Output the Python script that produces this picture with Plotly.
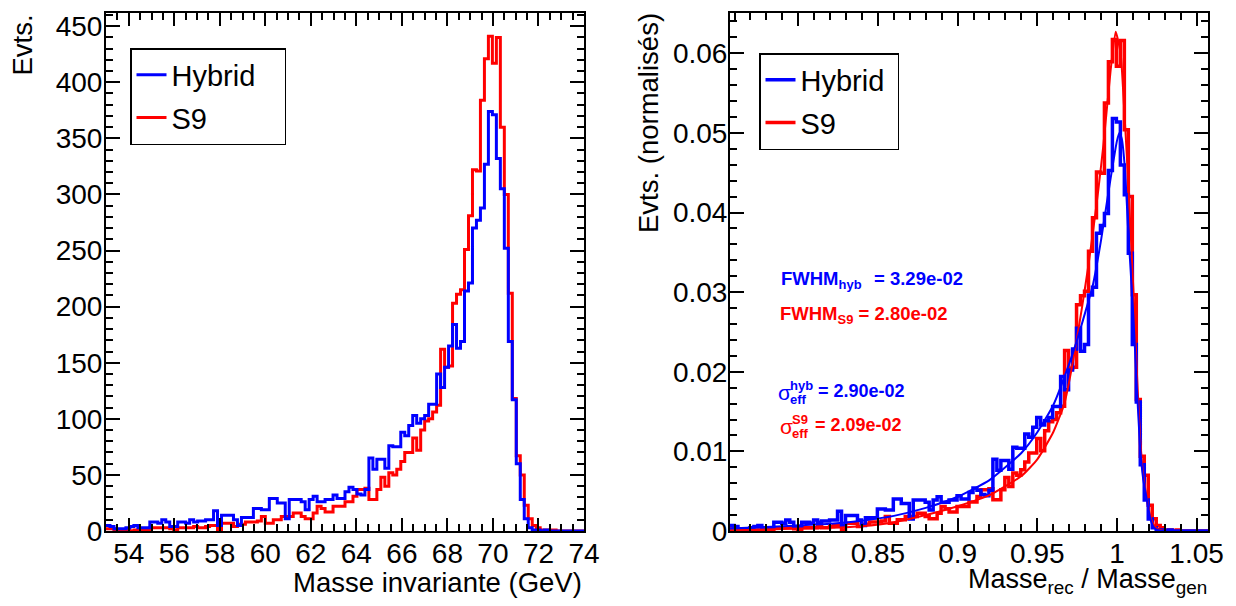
import numpy as np
import plotly.graph_objects as go

# ---------------- data ----------------
# Left panel: invariant mass histogram, 120 bins from 53 to 74 GeV (counts)
mass_lo, mass_hi, n_bins = 53.0, 74.0, 120
hybrid_counts = [
    5, 4, 2, 2, 2, 3, 4, 5, 3, 3,
    3, 8, 8, 7, 10, 8, 4, 4, 8, 8,
    7, 10, 8, 9, 9, 10, 10, 18, 5, 14,
    14, 14, 10, 5, 12, 12, 12, 20, 20, 19,
    19, 29, 29, 25, 25, 11, 28, 28, 28, 26,
    19, 28, 31, 26, 26, 28, 28, 32, 29, 29,
    35, 39, 37, 33, 32, 37, 65, 55, 64, 64,
    56, 76, 75, 75, 88, 85, 94, 103, 96, 100,
    103, 113, 113, 140, 128, 146, 165, 184, 163, 169,
    214, 221, 270, 277, 288, 327, 374, 371, 332, 305,
    252, 169, 117, 60, 28, 11, 3, 1, 1, 0,
    1, 0, 0, 0, 0, 0, 0, 0, 0, 0,
]
s9_counts = [
    2, 2, 1, 0, 1, 1, 0, 1, 1, 1,
    1, 3, 3, 3, 3, 3, 2, 1, 3, 3,
    3, 3, 4, 3, 3, 4, 5, 5, 1, 7,
    7, 7, 4, 6, 6, 8, 8, 8, 9, 13,
    7, 7, 10, 10, 13, 13, 13, 16, 16, 13,
    11, 11, 16, 22, 20, 17, 17, 22, 22, 22,
    26, 26, 31, 37, 37, 38, 28, 28, 37, 48,
    40, 52, 50, 55, 62, 70, 70, 83, 72, 90,
    98, 100, 106, 112, 162, 146, 147, 203, 211, 215,
    251, 281, 322, 321, 384, 421, 441, 417, 440, 360,
    300, 212, 118, 67, 50, 23, 11, 5, 3, 1,
    1, 0, 1, 0, 0, 0, 0, 0, 0, 0,
]

# Right panel: normalised ratio histogram, 120 bins from 0.757143 to 1.057143 (units of 1e-4)
ratio_lo, ratio_hi = 0.757143, 1.057143
hybrid_norm_e4 = [
    6.9, 5.5, 2.8, 2.8, 2.8, 4.2, 5.5, 6.9, 4.2, 4.2,
    4.2, 11.1, 11.1, 9.7, 13.9, 11.1, 5.5, 5.5, 11.1, 11.1,
    9.7, 13.9, 11.1, 12.5, 12.5, 13.9, 13.9, 24.9, 6.9, 19.4,
    19.4, 19.4, 13.9, 6.9, 16.6, 16.6, 16.6, 27.7, 27.7, 26.3,
    26.3, 40.2, 40.2, 34.6, 34.6, 15.2, 38.8, 38.8, 38.8, 36.0,
    26.3, 38.8, 42.9, 36.0, 36.0, 38.8, 38.8, 44.3, 40.2, 40.2,
    48.5, 54.0, 51.2, 45.7, 44.3, 51.2, 90.0, 76.2, 88.6, 88.6,
    77.6, 105.3, 103.9, 103.9, 121.9, 117.7, 130.2, 142.7, 133.0, 138.5,
    142.7, 156.5, 156.5, 193.9, 177.3, 202.2, 228.5, 254.8, 225.8, 234.1,
    296.4, 306.1, 374.0, 383.6, 398.9, 452.9, 518.0, 513.8, 459.8, 422.4,
    349.0, 234.1, 162.0, 83.1, 38.8, 15.2, 4.2, 1.4, 1.4, 0.0,
    1.4, 0.0, 0.0, 0.0, 0.0, 0.0, 0.0, 0.0, 0.0, 0.0,
]
s9_norm_e4 = [
    2.8, 2.8, 1.4, 0.0, 1.4, 1.4, 0.0, 1.4, 1.4, 1.4,
    1.4, 4.2, 4.2, 4.2, 4.2, 4.2, 2.8, 1.4, 4.2, 4.2,
    4.2, 4.2, 5.6, 4.2, 4.2, 5.6, 7.0, 7.0, 1.4, 9.8,
    9.8, 9.8, 5.6, 8.4, 8.4, 11.2, 11.2, 11.2, 12.6, 18.2,
    9.8, 9.8, 14.0, 14.0, 18.2, 18.2, 18.2, 22.4, 22.4, 18.2,
    15.4, 15.4, 22.4, 30.8, 28.0, 23.8, 23.8, 30.8, 30.8, 30.8,
    36.4, 36.4, 43.4, 51.8, 51.8, 53.2, 39.2, 39.2, 51.8, 67.2,
    56.0, 72.8, 70.0, 77.0, 86.8, 98.0, 98.0, 116.2, 100.8, 126.0,
    137.2, 140.0, 148.4, 156.8, 226.8, 204.4, 205.8, 284.2, 295.4, 301.0,
    351.4, 393.4, 450.8, 449.4, 537.6, 589.4, 617.4, 583.8, 616.0, 504.0,
    420.0, 296.8, 165.2, 93.8, 70.0, 32.2, 15.4, 7.0, 4.2, 1.4,
    1.4, 0.0, 1.4, 0.0, 0.0, 0.0, 0.0, 0.0, 0.0, 0.0,
]

# Fitted curves
fit_hyb_x = [0.7571, 0.78, 0.80, 0.82, 0.84, 0.86, 0.88, 0.90, 0.92, 0.94, 0.95, 0.96,
             0.97, 0.975, 0.98, 0.985, 0.99, 0.995, 1.0, 1.0015, 1.003, 1.005, 1.007,
             1.0103, 1.0125, 1.0145, 1.0165, 1.0187, 1.021, 1.023, 1.026, 1.03, 1.04, 1.0571]
fit_hyb_y = [0.0003, 0.0005, 0.0007, 0.0009, 0.0013, 0.0019, 0.0029, 0.0043, 0.0064, 0.0098,
             0.0124, 0.0158, 0.0210, 0.0240, 0.0274, 0.0310, 0.0365, 0.0430, 0.0490, 0.0500,
             0.0493, 0.0455, 0.0380, 0.0270, 0.0180, 0.0106, 0.0065, 0.0040, 0.0015, 0.0005,
             0.0001, 0.0, 0.0, 0.0]
fit_s9_x = [0.7571, 0.78, 0.80, 0.82, 0.84, 0.86, 0.88, 0.90, 0.92, 0.94, 0.95, 0.96,
            0.967, 0.9726, 0.978, 0.9821, 0.9853, 0.9884, 0.9915, 0.9961, 0.9992, 1.0023,
            1.0044, 1.0065, 1.0085, 1.0105, 1.0125, 1.0145, 1.0165, 1.0187, 1.021, 1.023,
            1.026, 1.03, 1.04, 1.0571]
fit_s9_y = [0.0001, 0.0002, 0.0003, 0.0004, 0.0006, 0.0011, 0.0020, 0.0031, 0.0045, 0.0069,
            0.0090, 0.0124, 0.0160, 0.0215, 0.0280, 0.0334, 0.0381, 0.0430, 0.0485, 0.0580,
            0.0627, 0.0600, 0.0535, 0.0460, 0.0380, 0.0295, 0.0200, 0.0118, 0.0070, 0.0042,
            0.0018, 0.0008, 0.0002, 0.0, 0.0, 0.0]

left_yticks = [0, 50, 100, 150, 200, 250, 300, 350, 400, 450]
left_xticks = [54, 56, 58, 60, 62, 64, 66, 68, 70, 72, 74]
right_xticks = [0.8, 0.85, 0.9, 0.95, 1.0, 1.05]
right_yticks = [0, 0.01, 0.02, 0.03, 0.04, 0.05, 0.06]

BLUE = "#0000ff"
RED = "#ff0000"
FONT = "Liberation Sans, Arial, Helvetica, sans-serif"
NBSP = "\u00a0"

# page places the figure with an 8 px body margin; work in screen pixels
OFF, W, H = 8, 1220, 590


def fx(sx):
    return (sx - OFF) / W


def fy(sy):
    return 1 - (sy - OFF) / H


def step_xy(edges, vals):
    vals = list(vals)
    return list(edges), vals + [vals[-1]]


left_edges = np.linspace(mass_lo, mass_hi, n_bins + 1)
right_edges = np.linspace(ratio_lo, ratio_hi, n_bins + 1)

fig = go.Figure()

# ---- left panel ----
x, y = step_xy(left_edges, s9_counts)
fig.add_trace(go.Scatter(x=x, y=y, mode="lines", line=dict(color=RED, width=3, shape="hv"),
                         name="S9", legend="legend", legendrank=2, legendgroup="s9l",
                         xaxis="x", yaxis="y"))
x, y = step_xy(left_edges, hybrid_counts)
fig.add_trace(go.Scatter(x=x, y=y, mode="lines", line=dict(color=BLUE, width=3, shape="hv"),
                         name="Hybrid" + NBSP * 3, legend="legend", legendrank=1,
                         legendgroup="hl", xaxis="x", yaxis="y"))

# ---- right panel ----
x, y = step_xy(right_edges, np.array(s9_norm_e4) * 1e-4)
fig.add_trace(go.Scatter(x=x, y=y, mode="lines", line=dict(color=RED, width=3.5, shape="hv"),
                         name="S9", legend="legend2", legendrank=2, legendgroup="s9r",
                         xaxis="x2", yaxis="y2"))
x, y = step_xy(right_edges, np.array(hybrid_norm_e4) * 1e-4)
fig.add_trace(go.Scatter(x=x, y=y, mode="lines", line=dict(color=BLUE, width=3.5, shape="hv"),
                         name="Hybrid" + NBSP, legend="legend2", legendrank=1,
                         legendgroup="hr", xaxis="x2", yaxis="y2"))
fig.add_trace(go.Scatter(x=fit_s9_x, y=fit_s9_y, mode="lines",
                         line=dict(color=RED, width=2, shape="spline", smoothing=0.5),
                         showlegend=False, xaxis="x2", yaxis="y2"))
fig.add_trace(go.Scatter(x=fit_hyb_x, y=fit_hyb_y, mode="lines",
                         line=dict(color=BLUE, width=2, shape="spline", smoothing=0.5),
                         showlegend=False, xaxis="x2", yaxis="y2"))


def axis(domain, rng, tickvals, dtick_minor, anchor, ticklen, minorlen, standoff):
    return dict(
        domain=domain, range=rng, anchor=anchor, tickmode="array", tickvals=tickvals,
        ticks="inside", ticklen=ticklen, tickwidth=2, tickcolor="black",
        showline=True, linecolor="black", linewidth=2, mirror="allticks",
        showgrid=False, zeroline=False, automargin=False,
        tickfont=dict(family=FONT, size=28, color="black"),
        ticklabelstandoff=standoff,
        minor=dict(ticks="inside", ticklen=minorlen, tickwidth=2, tickcolor="black",
                   dtick=dtick_minor, showgrid=False),
    )


y_dom = [fy(531), fy(12.7)]
fig.update_layout(
    width=W, height=H, autosize=False,
    margin=dict(l=0, r=0, t=0, b=0),
    paper_bgcolor="white", plot_bgcolor="white",
    xaxis=axis([fx(106), fx(584)], [mass_lo, mass_hi], left_xticks, 0.5, "y", 13, 7, -4),
    yaxis=axis(y_dom, [0, 462], left_yticks, 10, "x", 14, 7, -4),
    xaxis2=axis([fx(730), fx(1208)], [ratio_lo, ratio_hi], right_xticks, 0.01, "y2", 13, 7, -4),
    yaxis2=axis(y_dom, [0, 0.0651], right_yticks, 0.002, "x2", 14, 7, -5),
    legend=dict(x=fx(130), y=fy(48), xanchor="left", yanchor="top",
                bordercolor="black", borderwidth=1.5, bgcolor="white",
                font=dict(family=FONT, size=29, color="black"), tracegroupgap=2),
    legend2=dict(x=fx(759), y=fy(53), xanchor="left", yanchor="top",
                 bordercolor="black", borderwidth=1.5, bgcolor="white",
                 font=dict(family=FONT, size=29, color="black"), tracegroupgap=2),
    showlegend=True,
)


def ann(text, sx, sy, size, color="black", xanchor="left", yanchor="middle", angle=0):
    fig.add_annotation(text=text, x=fx(sx), y=fy(sy), xref="paper", yref="paper",
                       xanchor=xanchor, yanchor=yanchor, showarrow=False, textangle=angle,
                       font=dict(family=FONT, size=size, color=color))


# axis titles
ann("Masse invariante (GeV)", 584, 582, 27.5, xanchor="right")
ann("Masse<sub>rec</sub> / Masse<sub>gen</sub>", 1209, 581, 27, xanchor="right")
ann("Evts.", 22, 13, 27.5, xanchor="center", yanchor="top", angle=-90)
ann("Evts. (normalisés)", 648, 11, 27.5, xanchor="center", yanchor="top", angle=-90)

# fit results
ann("<b>FWHM<sub>hyb</sub></b>", 779, 280, 18.5, BLUE)
ann("<b>= 3.29e-02</b>", 872, 278, 18.5, BLUE)
ann("<b>FWHM<sub>S9</sub> = 2.80e-02</b>", 778, 315, 18.5, RED)

ann("σ", 776, 392, 21, BLUE)
ann("<b>hyb</b>", 788, 385, 13, BLUE)
ann("<b>eff</b>", 788, 399, 13, BLUE)
ann("<b>= 2.90e-02</b>", 816, 391, 18, BLUE)

ann("σ", 778, 426, 21, RED)
ann("<b>S9</b>", 790, 419, 13, RED)
ann("<b>eff</b>", 790, 433, 13, RED)
ann("<b>= 2.09e-02</b>", 813, 425, 18, RED)

fig.write_html("out.html")
